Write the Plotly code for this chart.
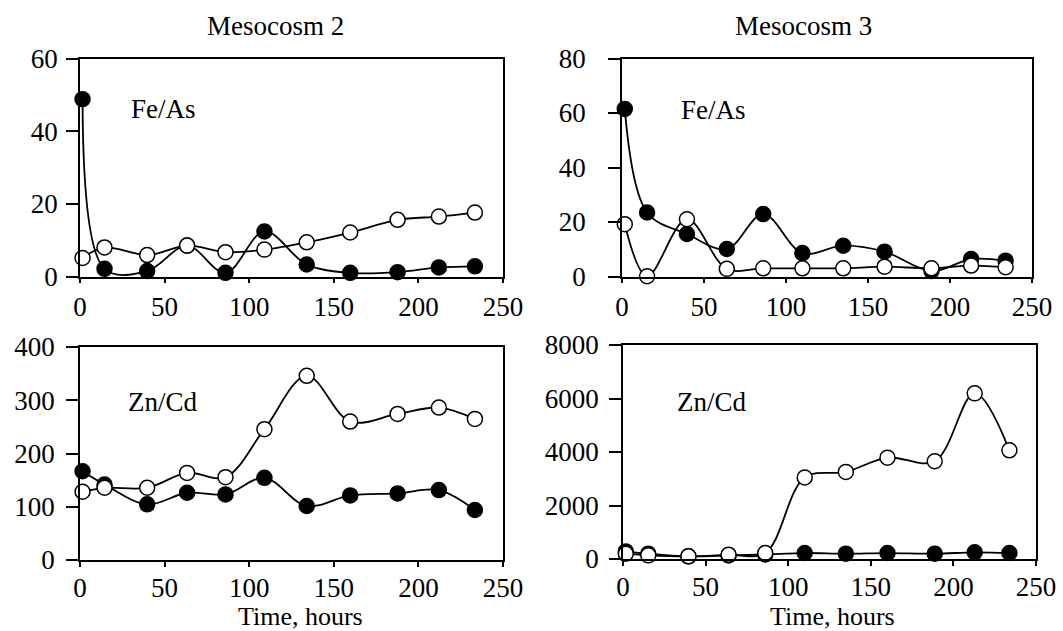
import plotly.graph_objects as go

# ---------------- data ----------------
time_m2 = [1.5, 14.5, 39.7, 63.3, 86, 109, 134, 159.7, 187.7, 212.1, 233.4]
time_m3 = [1.7, 15.3, 39.6, 63.9, 86.1, 110, 134.9, 160.1, 188.7, 212.9, 233.9]

m2_feas_filled = [48.8, 2.1, 1.5, 8.5, 1.0, 12.4, 3.3, 1.0, 1.2, 2.5, 2.8]
m2_feas_open = [5.1, 8.0, 5.9, 8.5, 6.7, 7.4, 9.4, 12.1, 15.6, 16.5, 17.6]

m3_feas_filled = [61.5, 23.5, 15.6, 10.1, 22.9, 8.6, 11.3, 9.1, 2.0, 6.4, 5.8]
m3_feas_open = [19.2, 0.1, 21.0, 2.8, 3.0, 3.0, 3.0, 3.6, 3.0, 4.0, 3.4]

m2_zncd_filled = [166.7, 141.8, 104.5, 126.3, 123.2, 154.3, 101.4, 121.3, 125.0, 131.3, 93.9]
m2_zncd_open = [128.1, 135.6, 135.6, 163.6, 155.5, 245.7, 345.9, 260.0, 274.3, 286.2, 265.0]

m3_zncd_filled = [285, 198, 100, 130, 170, 223, 198, 223, 198, 248, 223]
m3_zncd_open = [198, 136, 99, 161, 223, 3046, 3257, 3789, 3653, 6192, 4062]

x_ticks = [0, 50, 100, 150, 200, 250]
panel_titles = ["Mesocosm 2", "Mesocosm 3"]
panel_labels = ["Fe/As", "Fe/As", "Zn/Cd", "Zn/Cd"]
x_title = "Time, hours"

# ---------------- layout helpers ----------------
W, H = 1063, 631
def px(x):
    return x / W
def py(y):
    return 1 - y / H

FONT = "Liberation Serif"
FS = 27

panels = [
    # (idx, x-left, x-right, y-top, y-bottom, yrange, dtick, times, filled, open, y standoff, x standoff)
    (1, 80, 503, 58.5, 276.5, [0, 60], 20, time_m2, m2_feas_filled, m2_feas_open, 3, 0),
    (2, 622, 1032, 58.5, 276.5, [0, 80], 20, time_m3, m3_feas_filled, m3_feas_open, 17, 0),
    (3, 80, 503, 347, 560, [0, 400], 100, time_m2, m2_zncd_filled, m2_zncd_open, 6, -2),
    (4, 623, 1036, 345, 559, [0, 8000], 2000, time_m3, m3_zncd_filled, m3_zncd_open, 5, -2),
]

fig = go.Figure()
layout = dict(
    width=W, height=H, autosize=False,
    margin=dict(l=0, r=0, t=0, b=0, pad=0, autoexpand=False),
    paper_bgcolor="white", plot_bgcolor="white",
    showlegend=False,
    font=dict(family=FONT, size=FS, color="black"),
)

for idx, xl, xr, yt, yb, yr, dt, times, filled, opened, ystand, xstand in panels:
    xa = "x" if idx == 1 else f"x{idx}"
    ya = "y" if idx == 1 else f"y{idx}"
    common = dict(
        showline=True, linecolor="black", linewidth=1.5, mirror=True,
        ticks="outside", tickcolor="black", tickwidth=1.5,
        showgrid=False, zeroline=False, automargin=False,
        tickfont=dict(family=FONT, size=FS, color="black"),
    )
    layout["xaxis" if idx == 1 else f"xaxis{idx}"] = dict(
        domain=[px(xl), px(xr)], anchor=ya, range=[0, 250],
        tickvals=x_ticks, ticklen=5, ticklabelstandoff=xstand, **common)
    layout["yaxis" if idx == 1 else f"yaxis{idx}"] = dict(
        domain=[py(yb), py(yt)], anchor=xa, range=yr, dtick=dt,
        ticklen=12, ticklabelstandoff=ystand, **common)

    fig.add_trace(go.Scatter(
        x=times, y=filled, xaxis=xa, yaxis=ya, mode="lines+markers",
        line=dict(color="black", width=1.8, shape="spline", smoothing=1),
        marker=dict(size=15, color="black", line=dict(color="black", width=1.5)),
        cliponaxis=False))
    fig.add_trace(go.Scatter(
        x=times, y=opened, xaxis=xa, yaxis=ya, mode="lines+markers",
        line=dict(color="black", width=1.8, shape="spline", smoothing=1),
        marker=dict(size=15, color="white", line=dict(color="black", width=1.5)),
        cliponaxis=False))

annotations = [
    dict(text=panel_titles[0], x=px(275), y=py(26), size=FS),
    dict(text=panel_titles[1], x=px(803), y=py(26), size=FS),
    dict(text=panel_labels[0], x=px(163), y=py(109), size=FS),
    dict(text=panel_labels[1], x=px(713), y=py(110), size=FS),
    dict(text=panel_labels[2], x=px(163), y=py(402), size=FS),
    dict(text=panel_labels[3], x=px(712), y=py(402), size=FS),
    dict(text=x_title, x=px(300), y=py(616), size=26),
    dict(text=x_title, x=px(832), y=py(616), size=26),
]
for a in annotations:
    s = a.pop("size")
    a.update(xref="paper", yref="paper", showarrow=False,
             xanchor="center", yanchor="middle",
             font=dict(family=FONT, size=s, color="black"))
layout["annotations"] = annotations

fig.update_layout(**layout)
fig.write_html(
    "out.html",
    config={"responsive": False, "displayModeBar": False},
    post_script="document.body.style.margin='0';document.body.style.padding='0';document.body.style.overflow='hidden';",
)
